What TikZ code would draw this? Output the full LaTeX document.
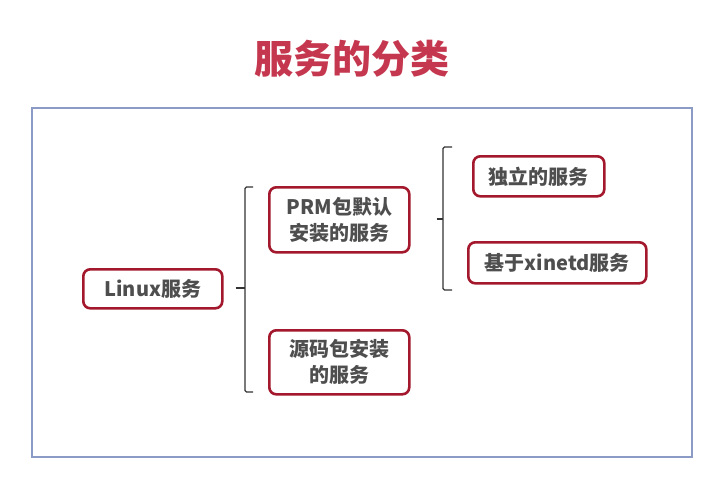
\documentclass[tikz,border=0pt]{standalone}
\usepackage{fontspec}
\setmainfont{Noto Sans CJK SC}
\definecolor{titlered}{HTML}{C5374F}
\definecolor{boxred}{HTML}{A3182C}
\definecolor{frameblue}{HTML}{8C9BC6}
\definecolor{textgray}{HTML}{4E4E4E}
\tikzset{
  item/.style={draw=boxred, line width=2.6pt, rounded corners=7pt, fill=white,
    text=textgray, font=\fontsize{20}{26}\selectfont\bfseries, align=center,
    anchor=north west, inner sep=0pt},
  bracket/.style={draw=black!80, line width=1.3pt},
}
\begin{document}
\begin{tikzpicture}[x=1pt,y=-1pt]
\useasboundingbox[fill=white] (0,0) rectangle (711,493);
\node[text=titlered, font=\fontsize{39}{42}\selectfont\bfseries] (title) at (352,59) {服务的分类};
\draw[frameblue, line width=2.8pt] (32,108) rectangle (692,457);
\node[item, minimum width=139pt, minimum height=39pt] (linux) at (82,268) {Linux服务};
\node[item, minimum width=140pt, minimum height=65pt] (prm) at (268,186) {PRM包默认\\安装的服务};
\node[item, minimum width=140pt, minimum height=64pt] (src) at (268,329) {源码包安装\\的服务};
\node[item, minimum width=131pt, minimum height=40pt] (indep) at (472,155) {独立的服务};
\node[item, minimum width=178pt, minimum height=41pt] (xinetd) at (467,241) {基于xinetd服务};
% left bracket
\coordinate (b1t) at (253,187);
\coordinate (b1b) at (253,392);
\coordinate (b1m) at (245,288);
\draw[bracket, rounded corners=1.5pt] (b1t) -- (245,187) -- (245,392) -- (b1b);
\draw[bracket] (linux.east |- b1m) ++(12,0) -- (b1m);
% right bracket
\coordinate (b2t) at (452,147);
\coordinate (b2b) at (452,290);
\coordinate (b2m) at (443,219);
\draw[bracket, rounded corners=1.5pt] (b2t) -- (443,147) -- (443,290) -- (b2b);
\draw[bracket] (prm.east |- b2m) ++(26,0) -- (b2m);
\end{tikzpicture}
\end{document}
